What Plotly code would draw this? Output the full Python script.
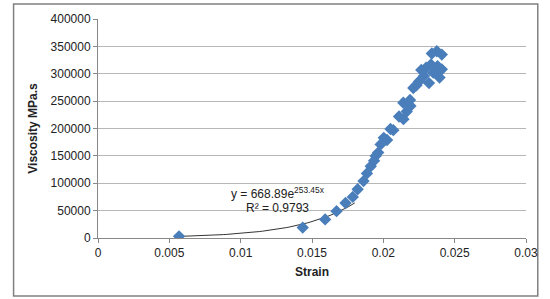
import plotly.graph_objects as go
import numpy as np

strain = [0.00568, 0.01435, 0.01592, 0.01672, 0.01735, 0.01786, 0.0182, 0.01861,
          0.01885, 0.01912, 0.01935, 0.01946, 0.01964, 0.01981, 0.02003, 0.02026,
          0.0205, 0.0207, 0.0211, 0.02141, 0.02164, 0.0214, 0.02187, 0.0219,
          0.0221, 0.02232, 0.0225, 0.02266, 0.02285, 0.023, 0.0232, 0.02334,
          0.0235, 0.0238, 0.02394, 0.0241, 0.0234, 0.02375, 0.0241]
viscosity = [3000, 19000, 34000, 49000, 64000, 75000, 89000, 104000,
             118000, 131000, 141000, 150000, 156000, 171000, 183000, 179000,
             199000, 197000, 222000, 217000, 231000, 247000, 252000, 241000,
             274000, 279000, 286000, 307000, 296000, 311000, 283000, 317000,
             302000, 314000, 293000, 308000, 337000, 341000, 335000]

fit_a = 668.89
fit_b = 253.45
fit_x = np.linspace(min(strain), 0.018, 60)
fit_y = fit_a * np.exp(fit_b * fit_x)

FONT = "Liberation Sans"
GRID = "#b7b7b7"
AXIS = "#888888"

fig = go.Figure()
fig.add_trace(go.Scatter(x=fit_x, y=fit_y, mode="lines",
                         line=dict(color="#000000", width=0.8), showlegend=False,
                         hoverinfo="skip"))
fig.add_trace(go.Scatter(x=strain, y=viscosity, mode="markers",
                         marker=dict(symbol="diamond", size=9.5, color="#4a7ebb",
                                     line=dict(width=0)),
                         showlegend=False))

fig.update_layout(
    width=550, height=299,
    margin=dict(l=98, r=16, t=19, b=61),
    paper_bgcolor="white", plot_bgcolor="white",
    font=dict(family=FONT, size=12, color="#222222"),
    xaxis=dict(range=[0, 0.03], dtick=0.005, tick0=0, showgrid=False,
               zeroline=False, showline=True, linecolor=AXIS, linewidth=1,
               ticks="outside", ticklen=4, tickcolor=AXIS,
               tickfont=dict(size=12, family=FONT),
               title=dict(text="<b>Strain</b>", font=dict(size=12, family=FONT), standoff=8)),
    yaxis=dict(range=[0, 400000], dtick=50000, tick0=0, tickformat="d",
               showgrid=True, gridcolor=GRID, gridwidth=1,
               zeroline=False, showline=True, linecolor=AXIS, linewidth=1,
               ticks="outside", ticklen=4, tickcolor=AXIS,
               tickfont=dict(size=12, family=FONT),
               title=dict(text="<b>Viscosity MPa.s</b>", font=dict(size=12, family=FONT), standoff=10)),
    shapes=[dict(type="rect", xref="paper", yref="paper",
                 x0=(12 - 98) / 436, x1=(546 - 98) / 436,
                 y0=(238 - 296) / 219, y1=(238 - 4) / 219,
                 line=dict(color="#808080", width=1.5), fillcolor="rgba(0,0,0,0)",
                 layer="below")],
    annotations=[
        dict(x=0.0126, y=83000, xref="x", yref="y",
             text="y = 668.89e<sup>253.45x</sup>", showarrow=False,
             font=dict(size=12, family=FONT, color="#222222")),
        dict(x=0.0126, y=55000, xref="x", yref="y",
             text="R² = 0.9793", showarrow=False,
             font=dict(size=12, family=FONT, color="#222222")),
    ],
)

fig.write_html("out.html", config={"displayModeBar": False},
               post_script="document.body.style.margin='0px';document.body.style.overflow='hidden';")
